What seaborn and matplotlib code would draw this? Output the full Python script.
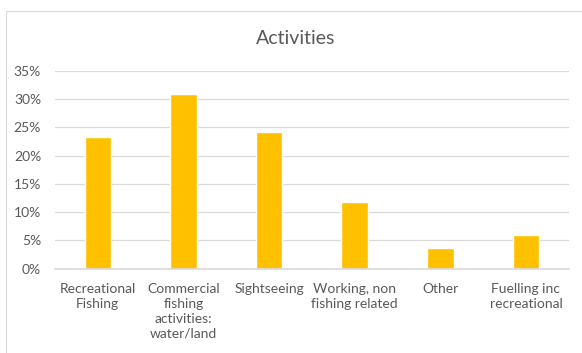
import matplotlib
matplotlib.use("Agg")
import matplotlib.pyplot as plt
import seaborn as sns
import pandas as pd
from matplotlib.patches import Rectangle
from matplotlib.ticker import PercentFormatter

categories = ["Recreational\nFishing", "Commercial\nfishing\nactivities:\nwater/land",
              "Sightseeing", "Working, non\nfishing related", "Other", "Fuelling inc\nrecreational"]
values = [0.232, 0.308, 0.241, 0.118, 0.036, 0.060]
yticks = [0, 0.05, 0.10, 0.15, 0.20, 0.25, 0.30, 0.35]

sns.set_theme(style="white")
plt.rcParams['font.family'] = ['Lato', 'DejaVu Sans']

df = pd.DataFrame({"cat": categories, "val": values})

fig = plt.figure(figsize=(5.82, 3.53), dpi=100)
fig.patches.append(Rectangle((6/582, -0.05), 1, 1.05 - 10.7/353, transform=fig.transFigure,
                             fill=False, edgecolor="#D9D9D9", linewidth=0.8))
ax = fig.add_axes([55/582, 1 - 268.7/353, (568.7 - 55)/582, (268.7 - 70.7)/353])
sns.barplot(data=df, x="cat", y="val", color="#FFC000", width=0.31, saturation=1, ax=ax)
ax.set_ylim(0, 0.35)
ax.set_yticks(yticks)
ax.yaxis.set_major_formatter(PercentFormatter(1.0, decimals=0))
ax.grid(axis="y", color="#D9D9D9", linewidth=0.9)
ax.set_axisbelow(True)
for s in ["top", "right", "left"]:
    ax.spines[s].set_visible(False)
ax.spines["bottom"].set_color("#D9D9D9")
ax.set_xlabel("")
ax.set_ylabel("")
ax.tick_params(axis="both", length=0, labelsize=10, labelcolor="#595959")
ax.tick_params(axis="y", pad=10)
ax.tick_params(axis="x", pad=10.5)
for t in ax.get_xticklabels():
    t.set_linespacing(1.27)
fig.text(296/582, 1 - 38/353, "Activities", ha="center", va="center", fontsize=14, color="#595959")
fig.savefig("out.png", dpi=100)
